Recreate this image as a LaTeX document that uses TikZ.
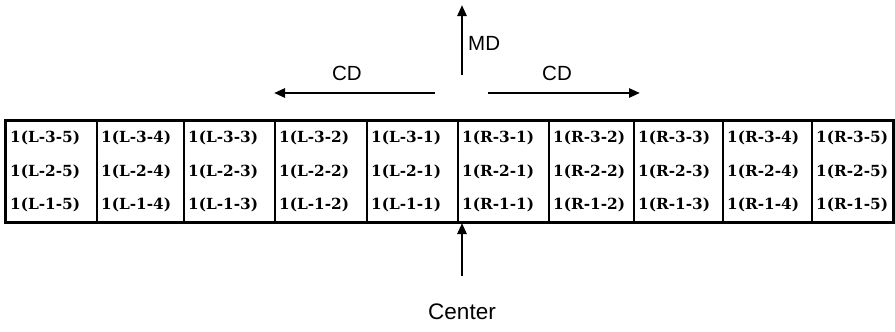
\documentclass[tikz,border=0pt]{standalone}
\usepackage{fontspec}
\setmainfont{DejaVu Serif}
\newfontfamily\labelfont{Liberation Sans}
\newfontfamily\cellfont{DejaVu Serif}
\usetikzlibrary{arrows.meta, positioning}
\tikzset{
  cell/.style  = {draw, line width=1.1pt, minimum height=101pt, inner sep=0pt},
  tag/.style   = {anchor=west, inner sep=0pt,
                  font=\cellfont\bfseries\fontsize{15.3pt}{15.3pt}\selectfont},
  lbl/.style   = {inner sep=0pt, font=\labelfont\fontsize{20.5}{20.5}\selectfont},
  arrow/.style = {-{Triangle[length=11pt,width=9pt]}, line width=2.6pt},
}

\begin{document}
\begin{tikzpicture}[x=1pt, y=-1pt]
  \useasboundingbox (0,0) rectangle (895,332);
  % columns of the table, left (L) and right (R) of the center line
  \foreach \xa/\xb/\side/\k in {6/97/L/5, 97/184/L/4, 184/275/L/3, 275/367/L/2,
                                367/458/L/1, 458/549/R/1, 549/634/R/2,
                                634/723/R/3, 723/812/R/4, 812/893/R/5} {
    \node[cell, minimum width={(\xb-\xa)*1pt}] (col-\side-\k)
      at ({(\xa+\xb)/2},171.5) {};
    \foreach \r/\y in {3/138, 2/172, 1/205}
      \node[tag] (c-\side-\r-\k) at (\xa+4,\y) {1(\side-\r-\k)};
  }
  \draw[line width=2pt] (col-L-5.north west) rectangle (col-R-5.south east);

  % machine and cross directions
  \coordinate (md-tail) at (462,75);
  \coordinate (md-tip)  at (462,5);
  \draw[arrow] (md-tail) -- (md-tip);
  \node[lbl, anchor=west] (md) at (468,43) {MD};

  \coordinate (cdl-tail) at (435,93);
  \coordinate (cdl-tip)  at (274,93);
  \draw[arrow] (cdl-tail) -- (cdl-tip);
  \node[lbl] (cdl) at (347,73) {CD};

  \coordinate (cdr-tail) at (488,93);
  \coordinate (cdr-tip)  at (640,93);
  \draw[arrow] (cdr-tail) -- (cdr-tip);
  \node[lbl] (cdr) at (557,73) {CD};

  % center line
  \node[lbl, font=\labelfont\fontsize{22.5}{22.5}\selectfont] (center) at (462,312) {Center};
  \coordinate (ctr-tail) at (462,276);
  \coordinate (ctr-tip)  at (462,223);
  \draw[arrow] (ctr-tail) -- (ctr-tip);
\end{tikzpicture}
\end{document}
